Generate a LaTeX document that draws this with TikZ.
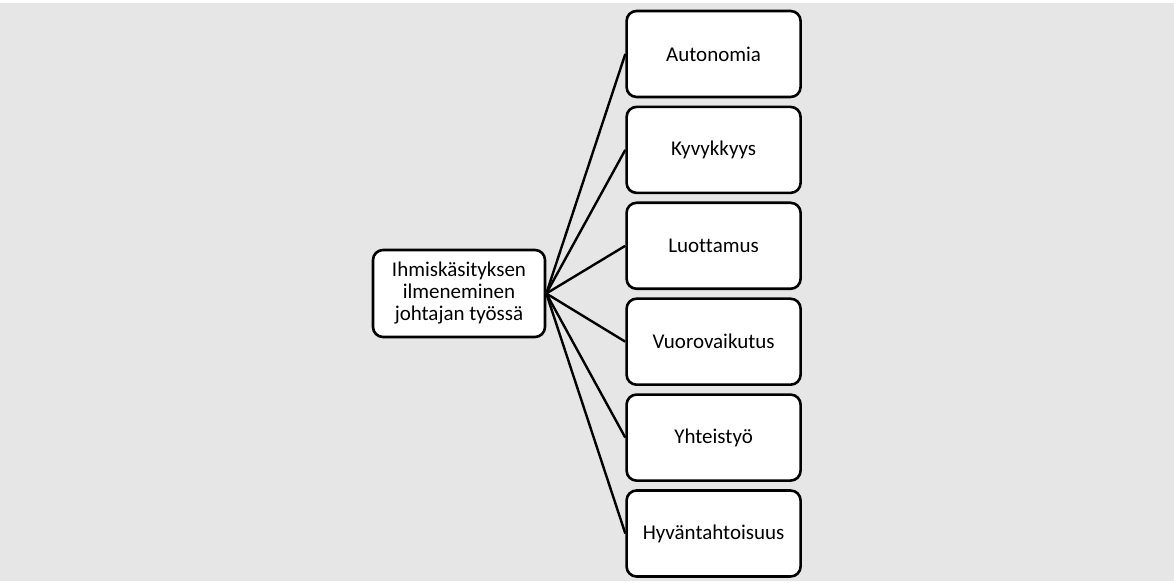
\documentclass[tikz,border=0pt]{standalone}
\usepackage{fontspec}
\setmainfont{Carlito}[Ligatures=NoCommon]
\usepackage{xcolor}
\usepackage{tikz}
\usetikzlibrary{positioning}
\definecolor{bggray}{HTML}{E7E6E6}
\tikzset{
  link/.style={draw=black,line width=1.2pt},
  theme/.style={draw=black,fill=white,rounded corners=5pt,line width=1.3pt,
                minimum width=86pt,minimum height=43.5pt,align=center,
                font=\fontsize{10.5}{11}\selectfont,inner sep=2pt},
  trait/.style={draw=black,fill=white,rounded corners=5pt,line width=1.3pt,
                minimum width=87pt,minimum height=43pt,align=center,
                font=\fontsize{10.5}{11}\selectfont,inner sep=2pt},
}
\begin{document}
\begin{tikzpicture}[node distance=3.65pt]
  \fill[bggray] (-229.5pt,-143.75pt) rectangle (357.5pt,145.25pt);
  \useasboundingbox (-229.5pt,-144.75pt) rectangle (357.5pt,146.75pt);
  \node[theme] (ihm) at (0,0) {Ihmiskäsityksen\\ilmeneminen\\johtajan työssä};
  \node[trait,right=39.5pt of ihm,yshift=119.75pt] (aut) {Autonomia};
  \node[trait,below=of aut] (kyv) {Kyvykkyys};
  \node[trait,below=of kyv] (luo) {Luottamus};
  \node[trait,below=of luo] (vuo) {Vuorovaikutus};
  \node[trait,below=of vuo] (yht) {Yhteistyö};
  \node[trait,below=of yht] (hyv) {Hyväntahtoisuus};
  \draw[link] (ihm.east)--(aut.west);
  \draw[link] (ihm.east)--(kyv.west);
  \draw[link] (ihm.east)--(luo.west);
  \draw[link] (ihm.east)--(vuo.west);
  \draw[link] (ihm.east)--(yht.west);
  \draw[link] (ihm.east)--(hyv.west);
\end{tikzpicture}
\end{document}
